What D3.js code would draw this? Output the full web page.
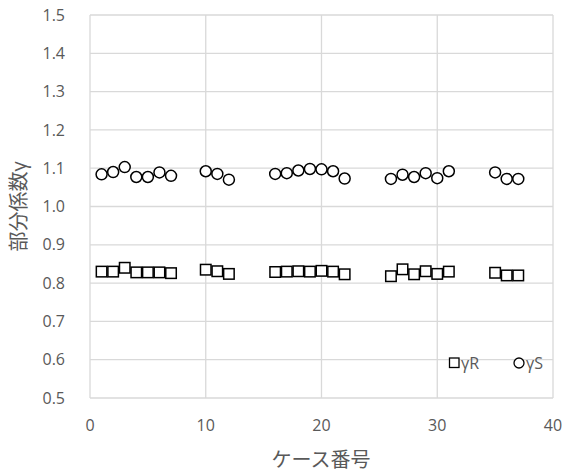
<!DOCTYPE html>
<html><head><meta charset="utf-8">
<script src="https://cdn.jsdelivr.net/npm/d3@7"></script>
<style>body{margin:0;background:#fff}svg{display:block}</style>
</head><body>
<svg id="c" width="566" height="475"></svg>
<script>
const caseNo = [1,2,3,4,5,6,7,10,11,12,16,17,18,19,20,21,22,26,27,28,29,30,31,35,36,37];
const gammaR = [0.830,0.830,0.840,0.828,0.828,0.828,0.826,0.835,0.831,0.824,0.829,0.830,0.831,0.830,0.832,0.830,0.823,0.818,0.836,0.823,0.831,0.824,0.830,0.827,0.820,0.820];
const gammaS = [1.084,1.090,1.103,1.077,1.077,1.089,1.080,1.092,1.085,1.070,1.085,1.087,1.094,1.098,1.097,1.092,1.073,1.072,1.083,1.077,1.087,1.074,1.092,1.089,1.072,1.072];
const xTicks = [0,10,20,30,40];
const yTicks = [0.5,0.6,0.7,0.8,0.9,1.0,1.1,1.2,1.3,1.4,1.5];
const seriesNames = ["γR","γS"];

const svg = d3.select("#c");
const L=90,R=553,T=15,B=398;
const x = d3.scaleLinear().domain([0,40]).range([L,R]);
const y = d3.scaleLinear().domain([0.5,1.5]).range([B,T]);
const font = "'Open Sans', 'Noto Sans CJK JP', sans-serif";

svg.append("g").selectAll("line").data(yTicks).join("line")
  .attr("x1",L).attr("x2",R).attr("y1",d=>y(d)).attr("y2",d=>y(d))
  .attr("stroke","#d9d9d9").attr("stroke-width",1.3);
svg.append("g").selectAll("line").data(xTicks).join("line")
  .attr("y1",T).attr("y2",B).attr("x1",d=>x(d)).attr("x2",d=>x(d))
  .attr("stroke","#d9d9d9").attr("stroke-width",1.3);

svg.append("g").selectAll("text").data(yTicks).join("text")
  .attr("x",65).attr("y",d=>y(d)).attr("dy","0.35em").attr("text-anchor","end")
  .attr("font-family",font).attr("font-size",16).attr("fill","#595959")
  .text(d=>d.toFixed(1));
svg.append("g").selectAll("text").data(xTicks).join("text")
  .attr("x",d=>x(d)).attr("y",425).attr("dy","0.35em").attr("text-anchor","middle")
  .attr("font-family",font).attr("font-size",16).attr("fill","#595959")
  .text(d=>d);

svg.append("text").attr("x",321).attr("y",460).attr("dy","0.35em").attr("text-anchor","middle")
  .attr("font-family",font).attr("font-size",20).attr("fill","#595959").text("ケース番号");
svg.append("text").attr("transform","translate(19,"+((T+B)/2)+") rotate(-90)")
  .attr("dy","0.35em").attr("text-anchor","middle")
  .attr("font-family",font).attr("font-size",20).attr("fill","#595959").text("部分係数γ");

const sq = 10.5;
svg.append("g").selectAll("rect").data(caseNo).join("rect")
  .attr("x",(d,i)=>x(d)-sq/2).attr("y",(d,i)=>y(gammaR[i])-sq/2)
  .attr("width",sq).attr("height",sq)
  .attr("fill","#fff").attr("stroke","#000").attr("stroke-width",1.5);
svg.append("g").selectAll("circle").data(caseNo).join("circle")
  .attr("cx",d=>x(d)).attr("cy",(d,i)=>y(gammaS[i])).attr("r",5.5)
  .attr("fill","#fff").attr("stroke","#000").attr("stroke-width",1.5);

// legend
const lg = svg.append("g");
lg.append("rect").attr("x",449.5).attr("y",358).attr("width",9.5).attr("height",9.5)
  .attr("fill","#fff").attr("stroke","#000").attr("stroke-width",1.3);
lg.append("text").attr("x",461).attr("y",363).attr("dy","0.35em")
  .attr("font-family",font).attr("font-size",16).attr("fill","#595959").text(seriesNames[0]);
lg.append("circle").attr("cx",519).attr("cy",363).attr("r",5)
  .attr("fill","#fff").attr("stroke","#000").attr("stroke-width",1.3);
lg.append("text").attr("x",526).attr("y",363).attr("dy","0.35em")
  .attr("font-family",font).attr("font-size",16).attr("fill","#595959").text(seriesNames[1]);
</script>
</body></html>
